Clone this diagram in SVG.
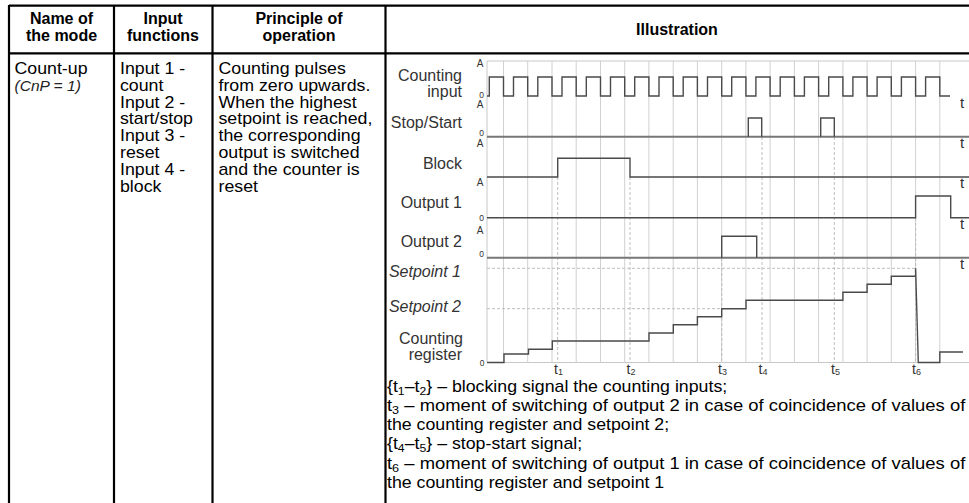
<svg xmlns="http://www.w3.org/2000/svg" width="969" height="503" viewBox="0 0 969 503">
<style>
text { font-family: "Liberation Sans", Arial, sans-serif; }
.tb { font-size: 16px; fill: #000; }
.hd { font-size: 16px; font-weight: bold; text-anchor: middle; fill: #000; }
.lbl { font-size: 16px; fill: #333; text-anchor: end; }
.it { font-style: italic; }
.ax { font-size: 10px; fill: #333; text-anchor: middle; }
.ax0 { font-size: 8.5px; fill: #333; text-anchor: middle; }
.tt { font-size: 15px; fill: #333; }
.tl { font-size: 14px; fill: #333; }
.sub { font-size: 9px; }
.sub2 { font-size: 11px; }
.grid { stroke: #d0d0d0; stroke-width: 1; fill: none; }
.frame { stroke: #c8c8c8; stroke-width: 1; fill: none; }
.dash { stroke: #bdbdbd; stroke-width: 1; stroke-dasharray: 3 2; fill: none; }
.sig { stroke: #4a4a4a; stroke-width: 1.4; fill: none; }
.base2 { stroke: #777; stroke-width: 2; fill: none; }
.border { stroke: #000; stroke-width: 2.2; fill: none; }
</style>
<rect width="969" height="503" fill="#fff"/>

<g id="table-grid">
  <path class="border" d="M9,5.7H969 M9,53.3H969 M9,5V503 M114,5V503 M212.5,5V503 M385.5,5V503"/>
</g>

<g id="headers">
  <text class="hd" x="61.5" y="23.5">Name of</text>
  <text class="hd" x="61.5" y="41">the mode</text>
  <text class="hd" x="163" y="23.5">Input</text>
  <text class="hd" x="163" y="41">functions</text>
  <text class="hd" x="299" y="23.5">Principle of</text>
  <text class="hd" x="299" y="41">operation</text>
  <text class="hd" x="677" y="35">Illustration</text>
</g>

<g id="col-mode" transform="translate(14.5 0) scale(1.11 1)">
  <text class="tb" x="0" y="74">Count-up</text>
  <text class="tb it" x="0" y="90.8" style="font-size:14px;fill:#222">(CnP = 1)</text>
</g>

<g id="col-inputs" transform="translate(120 0) scale(1.11 1)">
  <text class="tb" x="0" y="74">Input 1 -</text>
  <text class="tb" x="0" y="90.8">count</text>
  <text class="tb" x="0" y="107.6">Input 2 -</text>
  <text class="tb" x="0" y="124.4">start/stop</text>
  <text class="tb" x="0" y="141.2">Input 3 -</text>
  <text class="tb" x="0" y="158">reset</text>
  <text class="tb" x="0" y="174.8">Input 4 -</text>
  <text class="tb" x="0" y="191.6">block</text>
</g>

<g id="col-principle" transform="translate(218.5 0) scale(1.11 1)">
  <text class="tb" x="0" y="74">Counting pulses</text>
  <text class="tb" x="0" y="90.8">from zero upwards.</text>
  <text class="tb" x="0" y="107.6">When the highest</text>
  <text class="tb" x="0" y="124.4">setpoint is reached,</text>
  <text class="tb" x="0" y="141.2">the corresponding</text>
  <text class="tb" x="0" y="158">output is switched</text>
  <text class="tb" x="0" y="174.8">and the counter is</text>
  <text class="tb" x="0" y="191.6">reset</text>
</g>

<g id="chart-grid">
  <path class="frame" d="M487,61H969 M487,61V362.5 M487,362.5H969"/>
  <path class="grid" d="M503.5,61V362.5 M527.7,61V362.5 M552,61V362.5 M576.2,61V362.5 M600.5,61V362.5 M624.7,61V362.5 M648.9,61V362.5 M673.2,61V362.5 M697.4,61V362.5 M721.7,61V362.5 M745.9,61V362.5 M770.1,61V362.5 M794.4,61V362.5 M818.6,61V362.5 M842.9,61V362.5 M867.1,61V362.5 M891.3,61V362.5 M915.6,61V362.5 M939.8,61V362.5"/>
  <path class="dash" d="M487,268.3H915.6 M487,308.7H721.7"/>
  <path class="dash" d="M557.7,177V362.5 M630,177V362.5 M721.7,258V362.5 M762,137V362.5 M834.3,137V362.5 M915.6,218V362.5"/>
</g>

<g id="signals">
  <path id="sig-count" class="sig" d="M487,96H489.3V77H503.5V96H513.5V77H527.7V96H537.8V77H552V96H562V77H576.2V96H586.3V77H600.5V96H610.5V77H624.7V96H634.7V77H648.9V96H659V77H673.2V96H683.2V77H697.4V96H707.5V77H721.7V96H731.7V77H745.9V96H755.9V77H770.1V96H780.2V77H794.4V96H804.4V77H818.6V96H828.7V77H842.9V96H852.9V77H867.1V96H877.1V77H891.3V96H901.4V77H915.6V96H925.6V77H939.8V96H950"/>
  <path id="sig-stopstart-base" class="base2" d="M487,136.7H969"/>
  <path id="sig-stopstart" class="sig" d="M748.3,136.7V118H761.7V136.7 M820.7,136.7V118H834.3V136.7"/>
  <path id="sig-block" class="sig" d="M487,177H557.7V158.3H630V177H969"/>
  <path id="sig-out1" class="sig" d="M487,217.7H915.6V196H950.7V217.7H969"/>
  <path id="sig-out2-base" class="base2" d="M487,257.7H969"/>
  <path id="sig-out2" class="sig" d="M721.7,257.7V236.3H756.7V257.7"/>
  <path id="sig-register" class="sig" d="M487,362.5H504V354H528.5V349.3H552.3V341H649V333H673.3V324.7H697.4V316.7H721.7V308.7H746V300.3H842.9V292.3H867.1V284.3H891.3V276.3H915.6V268.3L918.3,362.5H939.8V352H963"/>
</g>

<g id="chart-labels">
  <text class="lbl" x="462" y="81">Counting</text>
  <text class="lbl" x="462" y="96.5">input</text>
  <text class="lbl" x="462" y="127.5">Stop/Start</text>
  <text class="lbl" x="462" y="169">Block</text>
  <text class="lbl" x="462" y="207.5">Output 1</text>
  <text class="lbl" x="462" y="247">Output 2</text>
  <text class="lbl it" x="461" y="276.5">Setpoint 1</text>
  <text class="lbl it" x="461" y="312">Setpoint 2</text>
  <text class="lbl" x="463" y="344">Counting</text>
  <text class="lbl" x="462" y="359.5">register</text>
</g>

<g id="axis-labels">
  <text class="ax" x="480" y="67">A</text>
  <text class="ax0" x="481.5" y="97.5">0</text>
  <text class="ax" x="480" y="107.5">A</text>
  <text class="ax0" x="481.5" y="135.5">0</text>
  <text class="ax" x="480" y="147">A</text>
  <text class="ax" x="480" y="186">A</text>
  <text class="ax0" x="481.5" y="221">0</text>
  <text class="ax" x="480" y="234">A</text>
  <text class="ax0" x="481.5" y="257">0</text>
  <text class="ax0" x="482" y="366">0</text>
  <text class="tt" x="960" y="108">t</text>
  <text class="tt" x="960" y="148">t</text>
  <text class="tt" x="960" y="188">t</text>
  <text class="tt" x="960" y="228.5">t</text>
  <text class="tt" x="960" y="268.5">t</text>
</g>

<g id="time-labels">
  <text class="tl" x="554" y="374">t<tspan class="sub" dy="1">1</tspan></text>
  <text class="tl" x="626.5" y="374">t<tspan class="sub" dy="1">2</tspan></text>
  <text class="tl" x="718" y="374">t<tspan class="sub" dy="1">3</tspan></text>
  <text class="tl" x="758.5" y="374">t<tspan class="sub" dy="1">4</tspan></text>
  <text class="tl" x="831" y="374">t<tspan class="sub" dy="1">5</tspan></text>
  <text class="tl" x="912" y="374">t<tspan class="sub" dy="1">6</tspan></text>
</g>

<g id="legend" transform="translate(387 0) scale(1.11 1)">
  <text class="tb" x="0" y="392">{t<tspan class="sub2" dy="3">1</tspan><tspan dy="-3">–t</tspan><tspan class="sub2" dy="3">2</tspan><tspan dy="-3">} – blocking signal the counting inputs;</tspan></text>
  <text class="tb" x="0" y="411" textLength="521" lengthAdjust="spacingAndGlyphs">t<tspan class="sub2" dy="3">3</tspan><tspan dy="-3"> – moment of switching of output 2 in case of coincidence of values of</tspan></text>
  <text class="tb" x="0" y="430">the counting register and setpoint 2;</text>
  <text class="tb" x="0" y="449.5">{t<tspan class="sub2" dy="3">4</tspan><tspan dy="-3">–t</tspan><tspan class="sub2" dy="3">5</tspan><tspan dy="-3">} – stop-start signal;</tspan></text>
  <text class="tb" x="0" y="469" textLength="521" lengthAdjust="spacingAndGlyphs">t<tspan class="sub2" dy="3">6</tspan><tspan dy="-3"> – moment of switching of output 1 in case of coincidence of values of</tspan></text>
  <text class="tb" x="0" y="488.5">the counting register and setpoint 1</text>
</g>
</svg>
